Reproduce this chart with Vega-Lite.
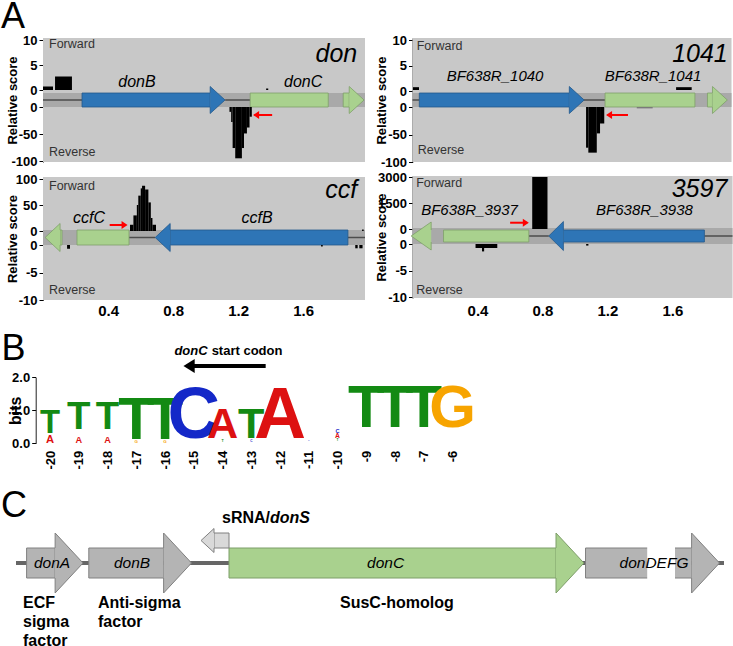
{
"$schema":"https://vega.github.io/schema/vega-lite/v6.json",
"width":733,"height":646,"autosize":{"type":"none"},"padding":0,"background":"white",
"config":{"font":"Liberation Sans","view":{"stroke":null},
 "axis":{"grid":false,"labelColor":"#000","titleColor":"#000","tickColor":"#000","domainColor":"#222","labelFontWeight":"bold","titleFontWeight":"bold","labelFontSize":13,"titleFontSize":13,"tickSize":4,"labelPadding":2},
 "locale":{"number":{"decimal":".","thousands":",","grouping":[3],"currency":["$",""],"minus":"-"}}},
"resolve":{"scale":{"x":"independent","y":"independent","color":"independent","size":"independent"},"axis":{"x":"independent","y":"independent"}},
"layer":[
 {"data":{"values":[{"a":0,"b":1.98}]},"mark":{"type":"rect","fill":"#c8c8c8"},
  "encoding":{"x":{"field":"a","type":"quantitative","scale":{"domain":[0,1.98],"range":[43,365],"nice":false,"zero":false},"axis":null},"x2":{"field":"b"},
   "y":{"datum":0,"type":"quantitative","scale":{"domain":[0,1],"range":[162,38]},"axis":{"orient":"left","offset":-43,"title":"Relative score","labels":false,"ticks":false,"domain":true,"titleX":-24}},"y2":{"datum":1}}},
 {"data":{"values":[{"a":0,"b":1.98}]},"mark":{"type":"rect","fill":"#a9a9a9"},
  "encoding":{"x":{"field":"a","type":"quantitative","scale":{"domain":[0,1.98],"range":[43,365],"nice":false,"zero":false},"axis":null},"x2":{"field":"b"},
   "y":{"datum":-1,"type":"quantitative","scale":{"domain":[-1,1],"range":[107,93]},"axis":null},"y2":{"datum":1}}},
 {"data":{"values":[{"a":0,"b":0.24},{"a":1.12,"b":1.274}]},"mark":{"type":"rule","stroke":"#4d4d4d","strokeWidth":1.5},
  "encoding":{"x":{"field":"a","type":"quantitative","scale":{"domain":[0,1.98],"range":[43,365],"nice":false,"zero":false},"axis":null},"x2":{"field":"b"},
   "y":{"datum":0,"type":"quantitative","scale":{"domain":[-1,1],"range":[107,93]},"axis":null}}},
 {"data":{"values":[{"a":0.24,"b":1.028}]},"mark":{"type":"rect","fill":"#2e75b6","stroke":"#23598c","strokeWidth":0.8},
  "encoding":{"x":{"field":"a","type":"quantitative","scale":{"domain":[0,1.98],"range":[43,365],"nice":false,"zero":false},"axis":null},"x2":{"field":"b"},
   "y":{"datum":-1,"type":"quantitative","scale":{"domain":[-1,1],"range":[107,93]},"axis":null},"y2":{"datum":1}}},
 {"data":{"values":[{"a":1.274,"b":1.754},{"a":1.846,"b":1.883}]},"mark":{"type":"rect","fill":"#a9d18e","stroke":"#7f9f6a","strokeWidth":0.8},
  "encoding":{"x":{"field":"a","type":"quantitative","scale":{"domain":[0,1.98],"range":[43,365],"nice":false,"zero":false},"axis":null},"x2":{"field":"b"},
   "y":{"datum":-1,"type":"quantitative","scale":{"domain":[-1,1],"range":[107,93]},"axis":null},"y2":{"datum":1}}},
 {"data":{"values":[{"a":1.028}]},"mark":{"type":"point","shape":"M0,-0.52L0,-1L1.1,0L0,1L0,0.52","size":729,"filled":true,"opacity":1,"fill":"#2e75b6","stroke":"#23598c","strokeWidth":0.8},
  "encoding":{"x":{"field":"a","type":"quantitative","scale":{"domain":[0,1.98],"range":[43,365],"nice":false,"zero":false},"axis":null},
   "y":{"datum":0,"type":"quantitative","scale":{"domain":[-1,1],"range":[107,93]},"axis":null}}},
 {"data":{"values":[{"a":1.883}]},"mark":{"type":"point","shape":"M0,-0.52L0,-1L1.1,0L0,1L0,0.52","size":729,"filled":true,"opacity":1,"fill":"#a9d18e","stroke":"#7f9f6a","strokeWidth":0.8},
  "encoding":{"x":{"field":"a","type":"quantitative","scale":{"domain":[0,1.98],"range":[43,365],"nice":false,"zero":false},"axis":null},
   "y":{"datum":0,"type":"quantitative","scale":{"domain":[-1,1],"range":[107,93]},"axis":null}}},
 {"data":{"values":[{"a":0,"b":0.0615,"v":0.7},{"a":0.074,"b":0.178,"v":2.7},{"a":1.372,"b":1.385,"v":0.3}]},"mark":{"type":"rect","fill":"#000"},
  "encoding":{"x":{"field":"a","type":"quantitative","scale":{"domain":[0,1.98],"range":[43,365],"nice":false,"zero":false},"axis":null},"x2":{"field":"b"},
   "y":{"field":"v","type":"quantitative","scale":{"domain":[0,10],"range":[90,40]},"axis":{"orient":"left","offset":-43,"values":[0,5,10],"title":null,"domain":false}},"y2":{"datum":0}}},
 {"data":{"values":[{"a":1.1465,"b":1.157,"v":-9},{"a":1.157,"b":1.166,"v":-28},{"a":1.166,"b":1.182,"v":-76},{"a":1.182,"b":1.223,"v":-95},{"a":1.223,"b":1.236,"v":-76},{"a":1.236,"b":1.254,"v":-49},{"a":1.254,"b":1.27,"v":-38},{"a":1.27,"b":1.284,"v":-18}]},"mark":{"type":"rect","fill":"#000"},
  "encoding":{"x":{"field":"a","type":"quantitative","scale":{"domain":[0,1.98],"range":[43,365],"nice":false,"zero":false},"axis":null},"x2":{"field":"b"},
   "y":{"field":"v","type":"quantitative","scale":{"domain":[-100,0],"range":[161,107]},"axis":{"orient":"left","offset":-43,"values":[-100,-50,0],"title":null,"domain":false}},"y2":{"datum":0}}},
 {"data":{"values":[{"a":1.3,"b":1.409,"v":-2.14}]},"mark":{"type":"rule","stroke":"#ff0000","strokeWidth":2},
  "encoding":{"x":{"field":"a","type":"quantitative","scale":{"domain":[0,1.98],"range":[43,365],"nice":false,"zero":false},"axis":null},"x2":{"field":"b"},
   "y":{"field":"v","type":"quantitative","scale":{"domain":[-1,1],"range":[107,93]},"axis":null}}},
 {"data":{"values":[{"a":1.292,"v":-2.14}]},"mark":{"type":"point","shape":"M0,0L1.5,-1L1.5,1Z","size":64,"filled":true,"opacity":1,"fill":"#ff0000","strokeWidth":0},
  "encoding":{"x":{"field":"a","type":"quantitative","scale":{"domain":[0,1.98],"range":[43,365],"nice":false,"zero":false},"axis":null},
   "y":{"field":"v","type":"quantitative","scale":{"domain":[-1,1],"range":[107,93]},"axis":null}}},
 {"data":{"values":[{"a":0.578,"v":2.57,"t":"donB"},{"a":1.6,"v":2.57,"t":"donC"}]},"mark":{"type":"text","fontSize":16,"fontStyle":"italic","align":"center","baseline":"middle","fill":"#000"},
  "encoding":{"x":{"field":"a","type":"quantitative","scale":{"domain":[0,1.98],"range":[43,365],"nice":false,"zero":false},"axis":null},
   "y":{"field":"v","type":"quantitative","scale":{"domain":[-1,1],"range":[107,93]},"axis":null},"text":{"field":"t"}}},
 {"data":{"values":[{"a":1.932,"v":5.43,"t":"don"}]},"mark":{"type":"text","fontSize":25,"fontStyle":"italic","align":"right","baseline":"alphabetic","fill":"#000"},
  "encoding":{"x":{"field":"a","type":"quantitative","scale":{"domain":[0,1.98],"range":[43,365],"nice":false,"zero":false},"axis":null},
   "y":{"field":"v","type":"quantitative","scale":{"domain":[-1,1],"range":[107,93]},"axis":null},"text":{"field":"t"}}},
 {"data":{"values":[{"a":-0.258,"v":10.29,"t":"A"}]},"mark":{"type":"text","fontSize":36,"align":"left","baseline":"alphabetic","fill":"#000"},
  "encoding":{"x":{"field":"a","type":"quantitative","scale":{"domain":[0,1.98],"range":[43,365],"nice":false,"zero":false},"axis":null},
   "y":{"field":"v","type":"quantitative","scale":{"domain":[-1,1],"range":[107,93]},"axis":null},"text":{"field":"t"}}},
 {"data":{"values":[{"a":0.037,"v":8.0,"t":"Forward"},{"a":0.037,"v":-7.43,"t":"Reverse"}]},"mark":{"type":"text","fontSize":12.5,"align":"left","baseline":"middle","fill":"#333"},
  "encoding":{"x":{"field":"a","type":"quantitative","scale":{"domain":[0,1.98],"range":[43,365],"nice":false,"zero":false},"axis":null},
   "y":{"field":"v","type":"quantitative","scale":{"domain":[-1,1],"range":[107,93]},"axis":null},"text":{"field":"t"}}},

 {"data":{"values":[{"a":0,"b":1.963}]},"mark":{"type":"rect","fill":"#c8c8c8"},
  "encoding":{"x":{"field":"a","type":"quantitative","scale":{"domain":[0,1.963],"range":[412.5,731.5],"nice":false,"zero":false},"axis":null},"x2":{"field":"b"},
   "y":{"datum":0,"type":"quantitative","scale":{"domain":[0,1],"range":[162,38]},"axis":{"orient":"left","offset":-412.5,"title":"Relative score","labels":false,"ticks":false,"domain":true,"titleX":-24}},"y2":{"datum":1}}},
 {"data":{"values":[{"a":0,"b":1.963}]},"mark":{"type":"rect","fill":"#a9a9a9"},
  "encoding":{"x":{"field":"a","type":"quantitative","scale":{"domain":[0,1.963],"range":[412.5,731.5],"nice":false,"zero":false},"axis":null},"x2":{"field":"b"},
   "y":{"datum":-1,"type":"quantitative","scale":{"domain":[-1,1],"range":[107,93]},"axis":null},"y2":{"datum":1}}},
 {"data":{"values":[{"a":0,"b":0.042},{"a":1.051,"b":1.185}]},"mark":{"type":"rule","stroke":"#4d4d4d","strokeWidth":1.5},
  "encoding":{"x":{"field":"a","type":"quantitative","scale":{"domain":[0,1.963],"range":[412.5,731.5],"nice":false,"zero":false},"axis":null},"x2":{"field":"b"},
   "y":{"datum":0,"type":"quantitative","scale":{"domain":[-1,1],"range":[107,93]},"axis":null}}},
 {"data":{"values":[{"a":0.042,"b":0.965}]},"mark":{"type":"rect","fill":"#2e75b6","stroke":"#23598c","strokeWidth":0.8},
  "encoding":{"x":{"field":"a","type":"quantitative","scale":{"domain":[0,1.963],"range":[412.5,731.5],"nice":false,"zero":false},"axis":null},"x2":{"field":"b"},
   "y":{"datum":-1,"type":"quantitative","scale":{"domain":[-1,1],"range":[107,93]},"axis":null},"y2":{"datum":1}}},
 {"data":{"values":[{"a":1.185,"b":1.738},{"a":1.815,"b":1.846}]},"mark":{"type":"rect","fill":"#a9d18e","stroke":"#7f9f6a","strokeWidth":0.8},
  "encoding":{"x":{"field":"a","type":"quantitative","scale":{"domain":[0,1.963],"range":[412.5,731.5],"nice":false,"zero":false},"axis":null},"x2":{"field":"b"},
   "y":{"datum":-1,"type":"quantitative","scale":{"domain":[-1,1],"range":[107,93]},"axis":null},"y2":{"datum":1}}},
 {"data":{"values":[{"a":0.965}]},"mark":{"type":"point","shape":"M0,-0.52L0,-1L1.1,0L0,1L0,0.52","size":729,"filled":true,"opacity":1,"fill":"#2e75b6","stroke":"#23598c","strokeWidth":0.8},
  "encoding":{"x":{"field":"a","type":"quantitative","scale":{"domain":[0,1.963],"range":[412.5,731.5],"nice":false,"zero":false},"axis":null},
   "y":{"datum":0,"type":"quantitative","scale":{"domain":[-1,1],"range":[107,93]},"axis":null}}},
 {"data":{"values":[{"a":1.846}]},"mark":{"type":"point","shape":"M0,-0.52L0,-1L1.1,0L0,1L0,0.52","size":729,"filled":true,"opacity":1,"fill":"#a9d18e","stroke":"#7f9f6a","strokeWidth":0.8},
  "encoding":{"x":{"field":"a","type":"quantitative","scale":{"domain":[0,1.963],"range":[412.5,731.5],"nice":false,"zero":false},"axis":null},
   "y":{"datum":0,"type":"quantitative","scale":{"domain":[-1,1],"range":[107,93]},"axis":null}}},
 {"data":{"values":[{"a":0.003,"b":0.04,"v":0.75,"w":0.2},{"a":1.622,"b":1.718,"v":0.75,"w":0.2}]},"mark":{"type":"rect","fill":"#000"},
  "encoding":{"x":{"field":"a","type":"quantitative","scale":{"domain":[0,1.963],"range":[412.5,731.5],"nice":false,"zero":false},"axis":null},"x2":{"field":"b"},
   "y":{"field":"v","type":"quantitative","scale":{"domain":[0,10],"range":[91,40]},"axis":{"orient":"left","offset":-412.5,"values":[0,5,10],"title":null,"domain":false}},"y2":{"field":"w"}}},
 {"data":{"values":[{"a":1.068,"b":1.082,"v":-74},{"a":1.082,"b":1.134,"v":-83},{"a":1.134,"b":1.154,"v":-48},{"a":1.154,"b":1.18,"v":-30}]},"mark":{"type":"rect","fill":"#000"},
  "encoding":{"x":{"field":"a","type":"quantitative","scale":{"domain":[0,1.963],"range":[412.5,731.5],"nice":false,"zero":false},"axis":null},"x2":{"field":"b"},
   "y":{"field":"v","type":"quantitative","scale":{"domain":[-100,0],"range":[162,107]},"axis":{"orient":"left","offset":-412.5,"values":[-100,-50,0],"title":null,"domain":false}},"y2":{"datum":0}}},
 {"data":{"values":[{"a":1.38,"b":1.478,"v":-2.5}]},"mark":{"type":"rect","fill":"#7a7a7a"},
  "encoding":{"x":{"field":"a","type":"quantitative","scale":{"domain":[0,1.963],"range":[412.5,731.5],"nice":false,"zero":false},"axis":null},"x2":{"field":"b"},
   "y":{"field":"v","type":"quantitative","scale":{"domain":[-100,0],"range":[162,107]},"axis":null},"y2":{"datum":0}}},
 {"data":{"values":[{"a":1.2,"b":1.326,"v":-2.14}]},"mark":{"type":"rule","stroke":"#ff0000","strokeWidth":2},
  "encoding":{"x":{"field":"a","type":"quantitative","scale":{"domain":[0,1.963],"range":[412.5,731.5],"nice":false,"zero":false},"axis":null},"x2":{"field":"b"},
   "y":{"field":"v","type":"quantitative","scale":{"domain":[-1,1],"range":[107,93]},"axis":null}}},
 {"data":{"values":[{"a":1.191,"v":-2.14}]},"mark":{"type":"point","shape":"M0,0L1.5,-1L1.5,1Z","size":64,"filled":true,"opacity":1,"fill":"#ff0000","strokeWidth":0},
  "encoding":{"x":{"field":"a","type":"quantitative","scale":{"domain":[0,1.963],"range":[412.5,731.5],"nice":false,"zero":false},"axis":null},
   "y":{"field":"v","type":"quantitative","scale":{"domain":[-1,1],"range":[107,93]},"axis":null}}},
 {"data":{"values":[{"a":0.508,"v":3.43,"t":"BF638R_1040"},{"a":1.48,"v":3.43,"t":"BF638R_1041"}]},"mark":{"type":"text","fontSize":15,"fontStyle":"italic","align":"center","baseline":"middle","fill":"#000"},
  "encoding":{"x":{"field":"a","type":"quantitative","scale":{"domain":[0,1.963],"range":[412.5,731.5],"nice":false,"zero":false},"axis":null},
   "y":{"field":"v","type":"quantitative","scale":{"domain":[-1,1],"range":[107,93]},"axis":null},"text":{"field":"t"}}},
 {"data":{"values":[{"a":1.94,"v":5.43,"t":"1041"}]},"mark":{"type":"text","fontSize":25,"fontStyle":"italic","align":"right","baseline":"alphabetic","fill":"#000"},
  "encoding":{"x":{"field":"a","type":"quantitative","scale":{"domain":[0,1.963],"range":[412.5,731.5],"nice":false,"zero":false},"axis":null},
   "y":{"field":"v","type":"quantitative","scale":{"domain":[-1,1],"range":[107,93]},"axis":null},"text":{"field":"t"}}},
 {"data":{"values":[{"a":0.026,"v":7.71,"t":"Forward"},{"a":0.032,"v":-7.14,"t":"Reverse"}]},"mark":{"type":"text","fontSize":12.5,"align":"left","baseline":"middle","fill":"#333"},
  "encoding":{"x":{"field":"a","type":"quantitative","scale":{"domain":[0,1.963],"range":[412.5,731.5],"nice":false,"zero":false},"axis":null},
   "y":{"field":"v","type":"quantitative","scale":{"domain":[-1,1],"range":[107,93]},"axis":null},"text":{"field":"t"}}},

 {"data":{"values":[{"a":0,"b":1.98}]},"mark":{"type":"rect","fill":"#c8c8c8"},
  "encoding":{"x":{"field":"a","type":"quantitative","scale":{"domain":[0,1.98],"range":[43,365],"nice":false,"zero":false},"axis":{"orient":"bottom","offset":-346,"values":[0.4,0.8,1.2,1.6],"format":".1f","title":null,"labelFontSize":15,"ticks":false,"domain":false,"labelPadding":3}},"x2":{"field":"b"},
   "y":{"datum":0,"type":"quantitative","scale":{"domain":[0,1],"range":[300,177]},"axis":{"orient":"left","offset":-43,"title":"Relative score","labels":false,"ticks":false,"domain":true,"titleX":-24}},"y2":{"datum":1}}},
 {"data":{"values":[{"a":0,"b":1.98}]},"mark":{"type":"rect","fill":"#a9a9a9"},
  "encoding":{"x":{"field":"a","type":"quantitative","scale":{"domain":[0,1.98],"range":[43,365],"nice":false,"zero":false},"axis":null},"x2":{"field":"b"},
   "y":{"datum":-1,"type":"quantitative","scale":{"domain":[-1,1],"range":[245,230]},"axis":null},"y2":{"datum":1}}},
 {"data":{"values":[{"a":0.529,"b":0.689},{"a":1.875,"b":1.98}]},"mark":{"type":"rule","stroke":"#4d4d4d","strokeWidth":1.5},
  "encoding":{"x":{"field":"a","type":"quantitative","scale":{"domain":[0,1.98],"range":[43,365],"nice":false,"zero":false},"axis":null},"x2":{"field":"b"},
   "y":{"datum":0,"type":"quantitative","scale":{"domain":[-1,1],"range":[245,230]},"axis":null}}},
 {"data":{"values":[{"a":0.782,"b":1.875}]},"mark":{"type":"rect","fill":"#2e75b6","stroke":"#23598c","strokeWidth":0.8},
  "encoding":{"x":{"field":"a","type":"quantitative","scale":{"domain":[0,1.98],"range":[43,365],"nice":false,"zero":false},"axis":null},"x2":{"field":"b"},
   "y":{"datum":-1,"type":"quantitative","scale":{"domain":[-1,1],"range":[245,230]},"axis":null},"y2":{"datum":1}}},
 {"data":{"values":[{"a":0.105,"b":0.117},{"a":0.209,"b":0.529}]},"mark":{"type":"rect","fill":"#a9d18e","stroke":"#7f9f6a","strokeWidth":0.8},
  "encoding":{"x":{"field":"a","type":"quantitative","scale":{"domain":[0,1.98],"range":[43,365],"nice":false,"zero":false},"axis":null},"x2":{"field":"b"},
   "y":{"datum":-1,"type":"quantitative","scale":{"domain":[-1,1],"range":[245,230]},"axis":null},"y2":{"datum":1}}},
 {"data":{"values":[{"a":0.782}]},"mark":{"type":"point","shape":"M0,-0.54L0,-1L-1.07,0L0,1L0,0.54","size":784,"filled":true,"opacity":1,"fill":"#2e75b6","stroke":"#23598c","strokeWidth":0.8},
  "encoding":{"x":{"field":"a","type":"quantitative","scale":{"domain":[0,1.98],"range":[43,365],"nice":false,"zero":false},"axis":null},
   "y":{"datum":0,"type":"quantitative","scale":{"domain":[-1,1],"range":[245,230]},"axis":null}}},
 {"data":{"values":[{"a":0.105}]},"mark":{"type":"point","shape":"M0,-0.54L0,-1L-1.07,0L0,1L0,0.54","size":784,"filled":true,"opacity":1,"fill":"#a9d18e","stroke":"#7f9f6a","strokeWidth":0.8},
  "encoding":{"x":{"field":"a","type":"quantitative","scale":{"domain":[0,1.98],"range":[43,365],"nice":false,"zero":false},"axis":null},
   "y":{"datum":0,"type":"quantitative","scale":{"domain":[-1,1],"range":[245,230]},"axis":null}}},
 {"data":{"values":[{"a":0.535,"b":0.556,"v":12},{"a":0.556,"b":0.577,"v":30},{"a":0.577,"b":0.586,"v":50},{"a":0.586,"b":0.601,"v":68},{"a":0.601,"b":0.609,"v":82},{"a":0.609,"b":0.628,"v":87},{"a":0.628,"b":0.648,"v":80},{"a":0.648,"b":0.663,"v":55},{"a":0.663,"b":0.673,"v":25},{"a":0.673,"b":0.695,"v":12},{"a":1.962,"b":1.972,"v":3}]},"mark":{"type":"rect","fill":"#000"},
  "encoding":{"x":{"field":"a","type":"quantitative","scale":{"domain":[0,1.98],"range":[43,365],"nice":false,"zero":false},"axis":null},"x2":{"field":"b"},
   "y":{"field":"v","type":"quantitative","scale":{"domain":[0,100],"range":[231,179]},"axis":{"orient":"left","offset":-43,"values":[0,50,100],"title":null,"domain":false}},"y2":{"datum":0}}},
 {"data":{"values":[{"a":0.148,"b":0.166,"v":-0.7},{"a":1.71,"b":1.72,"v":-0.25},{"a":1.92,"b":1.935,"v":-0.6},{"a":1.945,"b":1.965,"v":-0.6}]},"mark":{"type":"rect","fill":"#000"},
  "encoding":{"x":{"field":"a","type":"quantitative","scale":{"domain":[0,1.98],"range":[43,365],"nice":false,"zero":false},"axis":null},"x2":{"field":"b"},
   "y":{"field":"v","type":"quantitative","scale":{"domain":[-10,0],"range":[300,245]},"axis":{"orient":"left","offset":-43,"values":[-10,-5,0],"title":null,"domain":false}},"y2":{"datum":0}}},
 {"data":{"values":[{"a":0.41,"b":0.51,"v":1.67}]},"mark":{"type":"rule","stroke":"#ff0000","strokeWidth":2},
  "encoding":{"x":{"field":"a","type":"quantitative","scale":{"domain":[0,1.98],"range":[43,365],"nice":false,"zero":false},"axis":null},"x2":{"field":"b"},
   "y":{"field":"v","type":"quantitative","scale":{"domain":[-1,1],"range":[245,230]},"axis":null}}},
 {"data":{"values":[{"a":0.52,"v":1.67}]},"mark":{"type":"point","shape":"M0,0L-1.5,-1L-1.5,1Z","size":64,"filled":true,"opacity":1,"fill":"#ff0000","strokeWidth":0},
  "encoding":{"x":{"field":"a","type":"quantitative","scale":{"domain":[0,1.98],"range":[43,365],"nice":false,"zero":false},"axis":null},
   "y":{"field":"v","type":"quantitative","scale":{"domain":[-1,1],"range":[245,230]},"axis":null}}},
 {"data":{"values":[{"a":0.283,"v":2.6,"t":"ccfC"},{"a":1.317,"v":2.6,"t":"ccfB"}]},"mark":{"type":"text","fontSize":16,"fontStyle":"italic","align":"center","baseline":"middle","fill":"#000"},
  "encoding":{"x":{"field":"a","type":"quantitative","scale":{"domain":[0,1.98],"range":[43,365],"nice":false,"zero":false},"axis":null},
   "y":{"field":"v","type":"quantitative","scale":{"domain":[-1,1],"range":[245,230]},"axis":null},"text":{"field":"t"}}},
 {"data":{"values":[{"a":1.932,"v":5.27,"t":"ccf"}]},"mark":{"type":"text","fontSize":25,"fontStyle":"italic","align":"right","baseline":"alphabetic","fill":"#000"},
  "encoding":{"x":{"field":"a","type":"quantitative","scale":{"domain":[0,1.98],"range":[43,365],"nice":false,"zero":false},"axis":null},
   "y":{"field":"v","type":"quantitative","scale":{"domain":[-1,1],"range":[245,230]},"axis":null},"text":{"field":"t"}}},
 {"data":{"values":[{"a":0.037,"v":6.87,"t":"Forward"},{"a":0.037,"v":-7.0,"t":"Reverse"}]},"mark":{"type":"text","fontSize":12.5,"align":"left","baseline":"middle","fill":"#333"},
  "encoding":{"x":{"field":"a","type":"quantitative","scale":{"domain":[0,1.98],"range":[43,365],"nice":false,"zero":false},"axis":null},
   "y":{"field":"v","type":"quantitative","scale":{"domain":[-1,1],"range":[245,230]},"axis":null},"text":{"field":"t"}}},

 {"data":{"values":[{"a":0,"b":1.97}]},"mark":{"type":"rect","fill":"#c8c8c8"},
  "encoding":{"x":{"field":"a","type":"quantitative","scale":{"domain":[0,1.97],"range":[412.5,732.5],"nice":false,"zero":false},"axis":{"orient":"bottom","offset":-346,"values":[0.4,0.8,1.2,1.6],"format":".1f","title":null,"labelFontSize":15,"ticks":false,"domain":false,"labelPadding":3}},"x2":{"field":"b"},
   "y":{"datum":0,"type":"quantitative","scale":{"domain":[0,1],"range":[298,176]},"axis":{"orient":"left","offset":-412.5,"title":"Relative score","labels":false,"ticks":false,"domain":true,"titleX":-24}},"y2":{"datum":1}}},
 {"data":{"values":[{"a":0,"b":1.97}]},"mark":{"type":"rect","fill":"#a9a9a9"},
  "encoding":{"x":{"field":"a","type":"quantitative","scale":{"domain":[0,1.97],"range":[412.5,732.5],"nice":false,"zero":false},"axis":null},"x2":{"field":"b"},
   "y":{"datum":-1,"type":"quantitative","scale":{"domain":[-1,1],"range":[244,228]},"axis":null},"y2":{"datum":1}}},
 {"data":{"values":[{"a":0.716,"b":0.839},{"a":1.797,"b":1.97}]},"mark":{"type":"rule","stroke":"#4d4d4d","strokeWidth":1.5},
  "encoding":{"x":{"field":"a","type":"quantitative","scale":{"domain":[0,1.97],"range":[412.5,732.5],"nice":false,"zero":false},"axis":null},"x2":{"field":"b"},
   "y":{"datum":0,"type":"quantitative","scale":{"domain":[-1,1],"range":[244,228]},"axis":null}}},
 {"data":{"values":[{"a":0.929,"b":1.797}]},"mark":{"type":"rect","fill":"#2e75b6","stroke":"#23598c","strokeWidth":0.8},
  "encoding":{"x":{"field":"a","type":"quantitative","scale":{"domain":[0,1.97],"range":[412.5,732.5],"nice":false,"zero":false},"axis":null},"x2":{"field":"b"},
   "y":{"datum":-0.75,"type":"quantitative","scale":{"domain":[-1,1],"range":[244,228]},"axis":null},"y2":{"datum":0.75}}},
 {"data":{"values":[{"a":0.191,"b":0.716}]},"mark":{"type":"rect","fill":"#a9d18e","stroke":"#7f9f6a","strokeWidth":0.8},
  "encoding":{"x":{"field":"a","type":"quantitative","scale":{"domain":[0,1.97],"range":[412.5,732.5],"nice":false,"zero":false},"axis":null},"x2":{"field":"b"},
   "y":{"datum":-0.75,"type":"quantitative","scale":{"domain":[-1,1],"range":[244,228]},"axis":null},"y2":{"datum":0.75}}},
 {"data":{"values":[{"a":0.929}]},"mark":{"type":"point","shape":"M0,-0.41L0,-1L-1.01,0L0,1L0,0.41","size":841,"filled":true,"opacity":1,"fill":"#2e75b6","stroke":"#23598c","strokeWidth":0.8},
  "encoding":{"x":{"field":"a","type":"quantitative","scale":{"domain":[0,1.97],"range":[412.5,732.5],"nice":false,"zero":false},"axis":null},
   "y":{"datum":0,"type":"quantitative","scale":{"domain":[-1,1],"range":[244,228]},"axis":null}}},
 {"data":{"values":[{"a":0.115}]},"mark":{"type":"point","shape":"M0,-0.43L0,-1L-1.43,0L0,1L0,0.43","size":784,"filled":true,"opacity":1,"fill":"#a9d18e","stroke":"#7f9f6a","strokeWidth":0.8},
  "encoding":{"x":{"field":"a","type":"quantitative","scale":{"domain":[0,1.97],"range":[412.5,732.5],"nice":false,"zero":false},"axis":null},
   "y":{"datum":0,"type":"quantitative","scale":{"domain":[-1,1],"range":[244,228]},"axis":null}}},
 {"data":{"values":[{"a":0.737,"b":0.831,"v":3000}]},"mark":{"type":"rect","fill":"#000"},
  "encoding":{"x":{"field":"a","type":"quantitative","scale":{"domain":[0,1.97],"range":[412.5,732.5],"nice":false,"zero":false},"axis":null},"x2":{"field":"b"},
   "y":{"field":"v","type":"quantitative","scale":{"domain":[0,3000],"range":[229,177]},"axis":{"orient":"left","offset":-412.5,"values":[0,1500,3000],"format":"d","title":null,"domain":false}},"y2":{"datum":0}}},
 {"data":{"values":[{"a":0.388,"b":0.522,"v":-0.75},{"a":0.428,"b":0.441,"v":-1.4},{"a":1.069,"b":1.083,"v":-0.3}]},"mark":{"type":"rect","fill":"#000"},
  "encoding":{"x":{"field":"a","type":"quantitative","scale":{"domain":[0,1.97],"range":[412.5,732.5],"nice":false,"zero":false},"axis":null},"x2":{"field":"b"},
   "y":{"field":"v","type":"quantitative","scale":{"domain":[-10,0],"range":[297,244]},"axis":{"orient":"left","offset":-412.5,"values":[-10,-5,0],"title":null,"domain":false}},"y2":{"datum":0}}},
 {"data":{"values":[{"a":0.601,"b":0.706,"v":1.66}]},"mark":{"type":"rule","stroke":"#ff0000","strokeWidth":2},
  "encoding":{"x":{"field":"a","type":"quantitative","scale":{"domain":[0,1.97],"range":[412.5,732.5],"nice":false,"zero":false},"axis":null},"x2":{"field":"b"},
   "y":{"field":"v","type":"quantitative","scale":{"domain":[-1,1],"range":[244,228]},"axis":null}}},
 {"data":{"values":[{"a":0.716,"v":1.66}]},"mark":{"type":"point","shape":"M0,0L-1.5,-1L-1.5,1Z","size":64,"filled":true,"opacity":1,"fill":"#ff0000","strokeWidth":0},
  "encoding":{"x":{"field":"a","type":"quantitative","scale":{"domain":[0,1.97],"range":[412.5,732.5],"nice":false,"zero":false},"axis":null},
   "y":{"field":"v","type":"quantitative","scale":{"domain":[-1,1],"range":[244,228]},"axis":null}}},
 {"data":{"values":[{"a":0.351,"v":3.25,"t":"BF638R_3937"},{"a":1.428,"v":3.25,"t":"BF638R_3938"}]},"mark":{"type":"text","fontSize":15,"fontStyle":"italic","align":"center","baseline":"middle","fill":"#000"},
  "encoding":{"x":{"field":"a","type":"quantitative","scale":{"domain":[0,1.97],"range":[412.5,732.5],"nice":false,"zero":false},"axis":null},
   "y":{"field":"v","type":"quantitative","scale":{"domain":[-1,1],"range":[244,228]},"axis":null},"text":{"field":"t"}}},
 {"data":{"values":[{"a":1.938,"v":4.91,"t":"3597"}]},"mark":{"type":"text","fontSize":25,"fontStyle":"italic","align":"right","baseline":"alphabetic","fill":"#000"},
  "encoding":{"x":{"field":"a","type":"quantitative","scale":{"domain":[0,1.97],"range":[412.5,732.5],"nice":false,"zero":false},"axis":null},
   "y":{"field":"v","type":"quantitative","scale":{"domain":[-1,1],"range":[244,228]},"axis":null},"text":{"field":"t"}}},
 {"data":{"values":[{"a":0.023,"v":6.625,"t":"Forward"},{"a":0.023,"v":-6.75,"t":"Reverse"}]},"mark":{"type":"text","fontSize":12.5,"align":"left","baseline":"middle","fill":"#333"},
  "encoding":{"x":{"field":"a","type":"quantitative","scale":{"domain":[0,1.97],"range":[412.5,732.5],"nice":false,"zero":false},"axis":null},
   "y":{"field":"v","type":"quantitative","scale":{"domain":[-1,1],"range":[244,228]},"axis":null},"text":{"field":"t"}}},

 {"data":{"values":[
   {"p":-20,"L":"A","y0":0.02,"h":0.28},{"p":-20,"L":"T","y0":0.3,"h":0.82},
   {"p":-19,"L":"A","y0":0.02,"h":0.23},{"p":-19,"L":"T","y0":0.43,"h":0.96},
   {"p":-18,"L":"A","y0":0.02,"h":0.23},{"p":-18,"L":"T","y0":0.43,"h":0.96},
   {"p":-17,"L":"G","y0":0.01,"h":0.11},{"p":-17,"L":"T","y0":0.12,"h":1.48},
   {"p":-16,"L":"G","y0":0.01,"h":0.11},{"p":-16,"L":"T","y0":0.12,"h":1.48},
   {"p":-15,"L":"C","y0":0.15,"h":1.82},
   {"p":-14,"L":"T","y0":0.03,"h":0.09},{"p":-14,"L":"A","y0":0.15,"h":1.08},
   {"p":-13,"L":"C","y0":0.03,"h":0.08},{"p":-13,"L":"T","y0":0.15,"h":1.08},
   {"p":-12,"L":"A","y0":0.15,"h":1.79},
   {"p":-11,"L":"C","y0":0.06,"h":0.04},
   {"p":-10,"L":"T","y0":0.06,"h":0.08},{"p":-10,"L":"A","y0":0.15,"h":0.17},{"p":-10,"L":"C","y0":0.32,"h":0.14},
   {"p":-9,"L":"T","y0":0.5,"h":1.5},{"p":-8,"L":"T","y0":0.5,"h":1.5},{"p":-7,"L":"T","y0":0.5,"h":1.5},{"p":-6,"L":"G","y0":0.5,"h":1.5}]},
  "mark":{"type":"text","font":"Liberation Sans","fontWeight":"bold","align":"center","baseline":"alphabetic"},
  "encoding":{"x":{"field":"p","type":"quantitative","scale":{"domain":[-20.5,-5.5],"range":[35.7,466.9],"nice":false,"zero":false},"axis":{"orient":"bottom","offset":-202.7,"values":[-20,-19,-18,-17,-16,-15,-14,-13,-12,-11,-10,-9,-8,-7,-6],"format":"d","labelAngle":-90,"title":null,"ticks":false,"domain":false,"labelPadding":7,"labelFontSize":13}},
   "y":{"field":"y0","type":"quantitative","scale":{"domain":[0,2],"range":[443.3,377.3],"nice":false},"axis":{"orient":"left","offset":-35.7,"values":[0,1,2],"title":"bits","titleFontSize":16,"titleX":-12,"domain":true}},
   "size":{"field":"h","type":"quantitative","scale":{"domain":[0,2],"range":[0,80]},"legend":null},
   "color":{"field":"L","type":"nominal","scale":{"domain":["A","C","G","T"],"range":["#dd1111","#1428c8","#f7a400","#138a13"]},"legend":null},
   "text":{"field":"L"}}},
 {"data":{"values":[{"a":-15.0,"b":-12.5,"v":2.34}]},"mark":{"type":"rule","stroke":"#000","strokeWidth":4},
  "encoding":{"x":{"field":"a","type":"quantitative","scale":{"domain":[-20.5,-5.5],"range":[35.7,466.9],"nice":false,"zero":false},"axis":null},"x2":{"field":"b"},
   "y":{"field":"v","type":"quantitative","scale":{"domain":[0,2],"range":[443.3,377.3],"nice":false},"axis":null}}},
 {"data":{"values":[{"a":-15.36,"v":2.34}]},"mark":{"type":"point","shape":"M0,0L1.6,-1L1.6,1Z","size":196,"filled":true,"opacity":1,"fill":"#000","strokeWidth":0},
  "encoding":{"x":{"field":"a","type":"quantitative","scale":{"domain":[-20.5,-5.5],"range":[35.7,466.9],"nice":false,"zero":false},"axis":null},
   "y":{"field":"v","type":"quantitative","scale":{"domain":[0,2],"range":[443.3,377.3],"nice":false},"axis":null}}},
 {"data":{"values":[{"a":-14.52,"v":2.8,"t":"donC"}]},"mark":{"type":"text","fontSize":13,"fontWeight":"bold","fontStyle":"italic","align":"right","baseline":"middle","fill":"#000"},
  "encoding":{"x":{"field":"a","type":"quantitative","scale":{"domain":[-20.5,-5.5],"range":[35.7,466.9],"nice":false,"zero":false},"axis":null},
   "y":{"field":"v","type":"quantitative","scale":{"domain":[0,2],"range":[443.3,377.3],"nice":false},"axis":null},"text":{"field":"t"}}},
 {"data":{"values":[{"a":-14.38,"v":2.8,"t":"start codon"}]},"mark":{"type":"text","fontSize":13,"fontWeight":"bold","align":"left","baseline":"middle","fill":"#000"},
  "encoding":{"x":{"field":"a","type":"quantitative","scale":{"domain":[-20.5,-5.5],"range":[35.7,466.9],"nice":false,"zero":false},"axis":null},
   "y":{"field":"v","type":"quantitative","scale":{"domain":[0,2],"range":[443.3,377.3],"nice":false},"axis":null},"text":{"field":"t"}}},
 {"data":{"values":[{"a":-21.687,"v":2.52,"t":"B"}]},"mark":{"type":"text","fontSize":36,"align":"left","baseline":"alphabetic","fill":"#000"},
  "encoding":{"x":{"field":"a","type":"quantitative","scale":{"domain":[-20.5,-5.5],"range":[35.7,466.9],"nice":false,"zero":false},"axis":null},
   "y":{"field":"v","type":"quantitative","scale":{"domain":[0,2],"range":[443.3,377.3],"nice":false},"axis":null},"text":{"field":"t"}}},

 {"data":{"values":[{"a":0,"b":8.85}]},"mark":{"type":"rule","stroke":"#666","strokeWidth":4},
  "encoding":{"x":{"field":"a","type":"quantitative","scale":{"domain":[0,8.85],"range":[16,724],"nice":false,"zero":false},"axis":null},"x2":{"field":"b"},
   "y":{"datum":0,"type":"quantitative","scale":{"domain":[-1,1],"range":[593,533]},"axis":null}}},
 {"data":{"values":[{"a":0.1325,"b":0.489},{"a":0.91,"b":1.845},{"a":7.119,"b":8.445}]},"mark":{"type":"rect","fill":"#b4b4b4","stroke":"#808080","strokeWidth":1},
  "encoding":{"x":{"field":"a","type":"quantitative","scale":{"domain":[0,8.85],"range":[16,724],"nice":false,"zero":false},"axis":null},"x2":{"field":"b"},
   "y":{"datum":-0.5,"type":"quantitative","scale":{"domain":[-1,1],"range":[593,533]},"axis":null},"y2":{"datum":0.5}}},
 {"data":{"values":[{"a":2.6625,"b":6.75}]},"mark":{"type":"rect","fill":"#a9d18e","stroke":"#7d9e68","strokeWidth":1},
  "encoding":{"x":{"field":"a","type":"quantitative","scale":{"domain":[0,8.85],"range":[16,724],"nice":false,"zero":false},"axis":null},"x2":{"field":"b"},
   "y":{"datum":-0.5,"type":"quantitative","scale":{"domain":[-1,1],"range":[593,533]},"axis":null},"y2":{"datum":0.5}}},
 {"data":{"values":[{"a":2.475,"b":2.6625}]},"mark":{"type":"rect","fill":"#d9d9d9","stroke":"#808080","strokeWidth":1},
  "encoding":{"x":{"field":"a","type":"quantitative","scale":{"domain":[0,8.85],"range":[16,724],"nice":false,"zero":false},"axis":null},"x2":{"field":"b"},
   "y":{"datum":0.5,"type":"quantitative","scale":{"domain":[-1,1],"range":[593,533]},"axis":null},"y2":{"datum":1.0}}},
 {"data":{"values":[{"a":0.489},{"a":1.845},{"a":8.445}]},"mark":{"type":"point","shape":"M0,-0.5L0,-1L0.93,0L0,1L0,0.5","size":3600,"filled":true,"opacity":1,"fill":"#b4b4b4","stroke":"#808080","strokeWidth":1},
  "encoding":{"x":{"field":"a","type":"quantitative","scale":{"domain":[0,8.85],"range":[16,724],"nice":false,"zero":false},"axis":null},
   "y":{"datum":0,"type":"quantitative","scale":{"domain":[-1,1],"range":[593,533]},"axis":null}}},
 {"data":{"values":[{"a":6.75}]},"mark":{"type":"point","shape":"M0,-0.5L0,-1L0.93,0L0,1L0,0.5","size":3600,"filled":true,"opacity":1,"fill":"#a9d18e","stroke":"#7d9e68","strokeWidth":1},
  "encoding":{"x":{"field":"a","type":"quantitative","scale":{"domain":[0,8.85],"range":[16,724],"nice":false,"zero":false},"axis":null},
   "y":{"datum":0,"type":"quantitative","scale":{"domain":[-1,1],"range":[593,533]},"axis":null}}},
 {"data":{"values":[{"a":2.475}]},"mark":{"type":"point","shape":"M0,-0.62L0,-1L-1.08,0L0,1L0,0.62","size":576,"filled":true,"opacity":1,"fill":"#d9d9d9","stroke":"#808080","strokeWidth":1},
  "encoding":{"x":{"field":"a","type":"quantitative","scale":{"domain":[0,8.85],"range":[16,724],"nice":false,"zero":false},"axis":null},
   "y":{"datum":0.75,"type":"quantitative","scale":{"domain":[-1,1],"range":[593,533]},"axis":null}}},
 {"data":{"values":[{"a":7.89,"b":8.2375}]},"mark":{"type":"rect","fill":"#ffffff"},
  "encoding":{"x":{"field":"a","type":"quantitative","scale":{"domain":[0,8.85],"range":[16,724],"nice":false,"zero":false},"axis":null},"x2":{"field":"b"},
   "y":{"datum":-0.56,"type":"quantitative","scale":{"domain":[-1,1],"range":[593,533]},"axis":null},"y2":{"datum":0.56}}},
 {"data":{"values":[{"a":0.45,"v":0,"t":"donA"},{"a":1.45,"v":0,"t":"donB"},{"a":4.62,"v":0,"t":"donC"},{"a":7.975,"v":0,"t":"donDEFG"}]},"mark":{"type":"text","fontSize":15.5,"fontStyle":"italic","align":"center","baseline":"middle","fill":"#000"},
  "encoding":{"x":{"field":"a","type":"quantitative","scale":{"domain":[0,8.85],"range":[16,724],"nice":false,"zero":false},"axis":null},
   "y":{"field":"v","type":"quantitative","scale":{"domain":[-1,1],"range":[593,533]},"axis":null},"text":{"field":"t"}}},
 {"data":{"values":[{"a":0.0875,"v":-1.5,"t":["ECF","sigma","factor"]},{"a":1.025,"v":-1.5,"t":["Anti-sigma","factor"]},{"a":4.05,"v":-1.5,"t":["SusC-homolog"]}]},"mark":{"type":"text","fontSize":16,"fontWeight":"bold","align":"left","baseline":"alphabetic","lineHeight":19,"fill":"#000"},
  "encoding":{"x":{"field":"a","type":"quantitative","scale":{"domain":[0,8.85],"range":[16,724],"nice":false,"zero":false},"axis":null},
   "y":{"field":"v","type":"quantitative","scale":{"domain":[-1,1],"range":[593,533]},"axis":null},"text":{"field":"t"}}},
 {"data":{"values":[{"a":2.575,"v":1.5,"t":"sRNA/"}]},"mark":{"type":"text","fontSize":16,"fontWeight":"bold","align":"left","baseline":"middle","fill":"#000"},
  "encoding":{"x":{"field":"a","type":"quantitative","scale":{"domain":[0,8.85],"range":[16,724],"nice":false,"zero":false},"axis":null},
   "y":{"field":"v","type":"quantitative","scale":{"domain":[-1,1],"range":[593,533]},"axis":null},"text":{"field":"t"}}},
 {"data":{"values":[{"a":3.175,"v":1.5,"t":"donS"}]},"mark":{"type":"text","fontSize":16,"fontWeight":"bold","fontStyle":"italic","align":"left","baseline":"middle","fill":"#000"},
  "encoding":{"x":{"field":"a","type":"quantitative","scale":{"domain":[0,8.85],"range":[16,724],"nice":false,"zero":false},"axis":null},
   "y":{"field":"v","type":"quantitative","scale":{"domain":[-1,1],"range":[593,533]},"axis":null},"text":{"field":"t"}}},
 {"data":{"values":[{"a":-0.1875,"v":1.533,"t":"C"}]},"mark":{"type":"text","fontSize":36,"align":"left","baseline":"alphabetic","fill":"#000"},
  "encoding":{"x":{"field":"a","type":"quantitative","scale":{"domain":[0,8.85],"range":[16,724],"nice":false,"zero":false},"axis":null},
   "y":{"field":"v","type":"quantitative","scale":{"domain":[-1,1],"range":[593,533]},"axis":null},"text":{"field":"t"}}}
]
}
